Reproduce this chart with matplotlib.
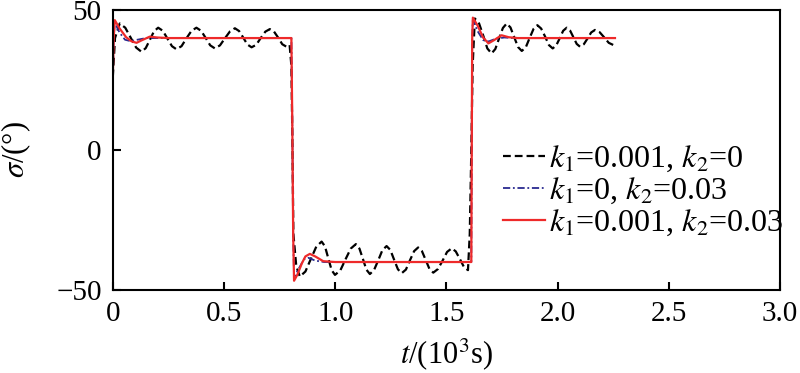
import numpy as np
import matplotlib
matplotlib.use('Agg')
import matplotlib.pyplot as plt

plt.rcParams['font.family'] = ['Liberation Serif', 'DejaVu Serif']
plt.rcParams['mathtext.fontset'] = 'stix'

# black dashed: k1=0.001, k2=0
t_k1 = [0.000, 0.010, 0.031, 0.056, 0.080, 0.105, 0.129, 0.148, 0.167, 0.185,
        0.204, 0.225, 0.245, 0.266, 0.286, 0.309, 0.331, 0.354, 0.376, 0.397,
        0.418, 0.438, 0.459, 0.482, 0.504, 0.527, 0.549, 0.568, 0.587, 0.605,
        0.624, 0.645, 0.665, 0.686, 0.706, 0.725, 0.744, 0.762, 0.781, 0.795,
        0.803, 0.808, 0.812, 0.825, 0.841, 0.866, 0.890, 0.915, 0.939, 0.954,
        0.969, 0.984, 0.999, 1.023, 1.046, 1.070, 1.093, 1.109, 1.125, 1.140,
        1.156, 1.175, 1.194, 1.212, 1.231, 1.248, 1.265, 1.282, 1.299, 1.318,
        1.336, 1.355, 1.373, 1.390, 1.407, 1.424, 1.441, 1.462, 1.483, 1.503,
        1.524, 1.542, 1.561, 1.579, 1.597, 1.605, 1.612, 1.618, 1.628, 1.647,
        1.666, 1.684, 1.703, 1.720, 1.737, 1.754, 1.771, 1.788, 1.805, 1.822,
        1.839, 1.857, 1.874, 1.892, 1.909, 1.926, 1.944, 1.961, 1.978, 1.994,
        2.010, 2.025, 2.041, 2.056, 2.071, 2.086, 2.101, 2.118, 2.135, 2.151,
        2.168, 2.189, 2.210, 2.230, 2.251]
s_k1 = [26.0, 40.0, 45.2, 43.7, 40.2, 36.6, 35.1, 36.4, 39.4, 42.4,
        43.7, 42.6, 39.9, 37.1, 36.0, 37.1, 39.9, 42.6, 43.7, 42.6,
        40.0, 37.4, 36.3, 37.4, 39.9, 42.4, 43.5, 42.5, 40.1, 37.7,
        36.7, 37.6, 40.0, 42.3, 43.2, 42.3, 40.1, 37.8, 36.9, 37.5,
        30.0, 0.0, -30.0, -41.5, -45.2, -43.4, -39.0, -34.5, -32.7, -34.4,
        -38.7, -42.9, -44.6, -43.0, -39.1, -35.2, -33.6, -35.2, -39.0, -42.7,
        -44.3, -42.8, -39.3, -35.8, -34.3, -35.7, -39.2, -42.6, -44.0, -42.7,
        -39.4, -36.1, -34.8, -36.1, -39.3, -42.5, -43.8, -42.5, -39.5, -36.4,
        -35.1, -36.2, -39.0, -41.8, -42.9, -30.0, 0.0, 30.0, 47.0, 45.2,
        40.8, 36.3, 34.5, 36.1, 39.9, 43.6, 45.2, 43.8, 40.3, 36.8,
        35.4, 36.7, 40.0, 43.3, 44.6, 43.4, 40.5, 37.5, 36.3, 37.4,
        40.0, 42.6, 43.7, 42.7, 40.3, 37.9, 36.9, 37.8, 39.9, 42.0,
        42.9, 42.1, 40.2, 38.3, 37.5]

# blue dash-dot: k1=0, k2=0.03
t_k2 = [0.000, 0.004, 0.009, 0.030, 0.055, 0.080, 0.110, 0.150, 0.803, 0.807,
        0.811, 0.815, 0.835, 0.860, 0.880, 0.910, 0.950, 1.612, 1.614, 1.616,
        1.619, 1.640, 1.665, 1.690, 1.720, 1.760, 1.800, 2.258]
s_k2 = [26.0, 40.0, 45.5, 42.0, 39.4, 38.9, 39.4, 40.0, 40.0, 10.0,
        -30.0, -45.5, -42.5, -39.0, -38.5, -39.5, -40.0, -40.0, 0.0, 40.0,
        46.5, 42.5, 39.3, 38.8, 39.7, 40.2, 40.0, 40.0]

# red solid: k1=0.001, k2=0.03
t_k12 = [0.000, 0.004, 0.009, 0.030, 0.060, 0.085, 0.107, 0.130, 0.166, 0.200,
         0.250, 0.803, 0.807, 0.811, 0.815, 0.830, 0.850, 0.866, 0.886, 0.910,
         0.946, 1.000, 1.612, 1.614, 1.616, 1.619, 1.640, 1.665, 1.689, 1.715,
         1.748, 1.780, 1.820, 2.258]
s_k12 = [26.0, 40.0, 46.4, 43.5, 40.3, 38.8, 38.3, 39.2, 40.5, 40.2,
         40.0, 40.0, 10.0, -30.0, -46.7, -44.5, -40.5, -38.0, -37.1, -38.0,
         -39.7, -40.0, -40.0, 0.0, 40.0, 47.3, 44.5, 40.2, 38.1, 39.3,
         41.0, 40.3, 40.0, 40.0]

labels = [r'$k_1$=0.001, $k_2$=0', r'$k_1$=0, $k_2$=0.03', r'$k_1$=0.001, $k_2$=0.03']

fig = plt.figure(figsize=(8, 3.73), dpi=100)
ax = fig.add_axes([0.141, 0.2225, 0.834, 0.7505])

ax.plot(t_k1, s_k1, color='black', ls=(0, (3.5, 1.8)), lw=1.6, label=labels[0])
ax.plot(t_k2, s_k2, color='#2a2a90', ls=(0, (4, 1.5, 1, 1.5)), lw=1.3, label=labels[1])
ax.plot(t_k12, s_k12, color='#ee2a2a', lw=1.6, label=labels[2])

ax.set_xlim(0, 3.0)
ax.set_ylim(-50, 50)
ax.set_xticks(np.arange(0, 3.01, 0.5))
ax.set_xticklabels(['0', '0.5', '1.0', '1.5', '2.0', '2.5', '3.0'])
ax.set_yticks([-50, 0, 50])
ax.set_yticklabels(['\u221250', '0', '50'])
ax.tick_params(direction='in', length=6, width=1.5, labelsize=21, pad=8)
for sp in ax.spines.values():
    sp.set_linewidth(1.5)

ax.set_xlabel(r'$t$/(10$^3$s)', fontsize=22)
ax.xaxis.set_label_coords(0.5, -0.165)
ax.set_ylabel(r'$\sigma$/(°)', fontsize=22)
ax.yaxis.set_label_coords(-0.12, 0.5)

ax.legend(loc='center left', bbox_to_anchor=(0.585, 0.354), frameon=False,
          fontsize=23, handlelength=1.3, handletextpad=0.15, labelspacing=0.05,
          borderpad=0, borderaxespad=0)

fig.savefig('out.png', dpi=100)
